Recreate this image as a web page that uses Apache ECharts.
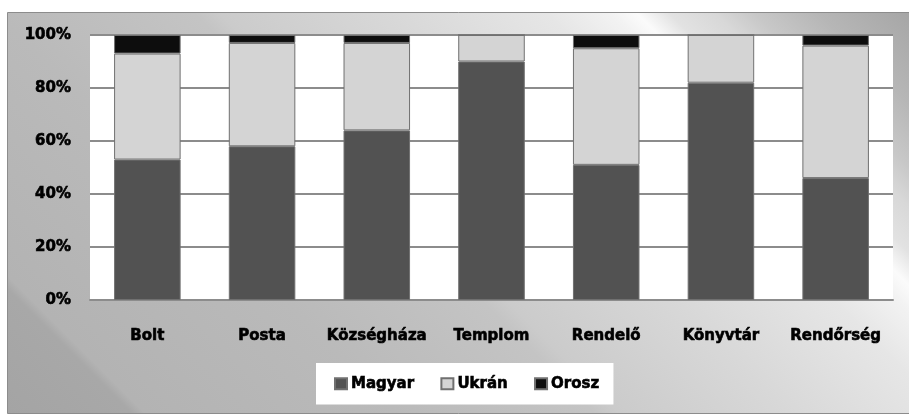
<!DOCTYPE html>
<html>
<head>
<meta charset="utf-8">
<script src="https://cdn.jsdelivr.net/npm/echarts@6/dist/echarts.min.js"></script>
<style>
  html, body { margin: 0; padding: 0; background: #fff; }
  #chart { width: 909px; height: 415px; }
</style>
</head>
<body>
<div id="chart"></div>
<script>
// Categories (places) and share of each language group, in percent
const categories = ['Bolt', 'Posta', 'Községháza', 'Templom', 'Rendelő', 'Könyvtár', 'Rendőrség'];
const magyar = [53, 58, 64, 90, 51, 82, 46];
const ukran  = [40, 39, 33, 10, 44, 18, 50];
const orosz  = [7, 3, 3, 0, 5, 0, 4];
const seriesNames = ['Magyar', 'Ukrán', 'Orosz'];
const yTicks = [0, 20, 40, 60, 80, 100];

const chart = echarts.init(document.getElementById('chart'));
// Heavy black labels used throughout
const font = {
  fontFamily: 'DejaVu Sans', fontWeight: 'bold', fontSize: 15, color: '#000',
  textBorderColor: '#000', textBorderWidth: 0.6
};

// Diagonal grey sheen for the chart area (bands run top-left to bottom-right)
const sheen = new echarts.graphic.LinearGradient(8, 413, 659, -238, [
  { offset: 0.00, color: '#a4a4a4' },
  { offset: 0.095, color: '#a8a8a8' },
  { offset: 0.105, color: '#b3b3b3' },
  { offset: 0.30, color: '#bababa' },
  { offset: 0.45, color: '#c4c4c4' },
  { offset: 0.47, color: '#cbcbcb' },
  { offset: 0.60, color: '#d8d8d8' },
  { offset: 0.72, color: '#e6e6e6' },
  { offset: 0.77, color: '#f2f2f2' },
  { offset: 0.79, color: '#fbfbfb' },
  { offset: 0.815, color: '#e2e2e2' },
  { offset: 0.85, color: '#d8d8d8' },
  { offset: 0.88, color: '#c8c8c8' },
  { offset: 0.93, color: '#b6b6b6' },
  { offset: 1.00, color: '#a6a6a6' }
], true);

function barSeries(name, data, color) {
  return {
    name: name,
    type: 'bar',
    stack: 'share',
    data: data,
    barCategoryGap: '42%',
    itemStyle: { color: color, borderColor: '#707070', borderWidth: 1 },
    emphasis: { disabled: true }
  };
}

chart.setOption({
  animation: false,
  backgroundColor: '#fff',
  graphic: [{
    type: 'rect',
    z: -100,
    silent: true,
    shape: { x: 7.5, y: 12.5, width: 906, height: 401 },
    style: { fill: sheen, stroke: '#8c8c8c', lineWidth: 1 }
  }],
  grid: {
    left: 90, right: 16, top: 35, bottom: 115,
    show: true, backgroundColor: '#fff', borderWidth: 0
  },
  legend: {
    data: seriesNames,
    left: 316, top: 363,
    backgroundColor: '#fff',
    padding: [13, 14, 13, 18],
    itemWidth: 12, itemHeight: 11, itemGap: 26,
    textStyle: Object.assign({}, font, { padding: [0, 0, 0, -1] }),
    icon: 'rect'
  },
  xAxis: {
    type: 'category',
    data: categories,
    axisLine: { show: true, lineStyle: { color: '#8c8c8c', width: 2 } },
    axisTick: { show: false },
    axisLabel: Object.assign({}, font, { margin: 29, interval: 0 })
  },
  yAxis: {
    type: 'value',
    min: yTicks[0], max: yTicks[yTicks.length - 1], interval: 20,
    axisLine: { show: false },
    axisTick: { show: false },
    splitLine: { lineStyle: { color: '#8c8c8c', width: 2 } },
    axisLabel: Object.assign({}, font, { margin: 19, formatter: '{value}%' })
  },
  series: [
    barSeries(seriesNames[0], magyar, '#525252'),
    barSeries(seriesNames[1], ukran, '#d4d4d4'),
    barSeries(seriesNames[2], orosz, '#0d0d0d')
  ]
});
</script>
</body>
</html>
